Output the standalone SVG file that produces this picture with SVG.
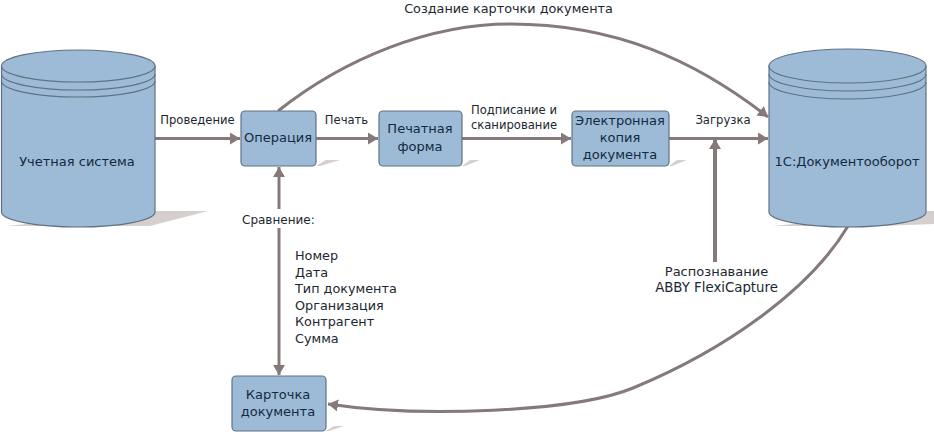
<svg xmlns="http://www.w3.org/2000/svg" width="934" height="438" viewBox="0 0 934 438">
<defs>
<marker id="a" markerUnits="userSpaceOnUse" markerWidth="12" markerHeight="14" refX="10" refY="6" orient="auto"><path d="M0 0L10 6L0 12z" fill="#85797a"/></marker>
</defs>
<style>
.n{fill:#9dbbd7;stroke:#5f7283;stroke-width:1.2}
.s{fill:#d5d0cd}
.l{fill:none;stroke:#5f7283;stroke-width:1.2}
.c{fill:none;stroke:#85797a;stroke-width:3;marker-end:url(#a)}
text{font-family:"DejaVu Sans",sans-serif;font-size:11.600px;fill:#1c2730}
.m{text-anchor:middle}
.d{fill:#14293f;font-size:13px}
.b{font-size:12.800px}
</style>
<rect width="934" height="438" fill="#fff"/>
<g id="connectors">
<path class="c" d="M155 138.500H240"/>
<path class="c" d="M316 138.500H378"/>
<path class="c" d="M462 138.500H571"/>
<path class="c" d="M669 138.500H768"/>
<path class="c" d="M715 262V139" style="stroke-width:4"/>
<path class="c" d="M278 111C345 58 430 24 510 24C615 24 695 60 768 117"/>
<path class="c" d="M279 209V167"/>
<path class="c" d="M279 228V375"/>
<path class="c" d="M848 226C810 290 725 350 633 388C575 412 420 418 328 404"/>
</g>
<g id="db-uchet">
<path class="s" d="M6 226L155 211H208L150 226z"/>
<path class="n" d="M1.500 66V212A76.750 15 0 0 0 155 212V66z"/>
<ellipse class="n" cx="78.250" cy="66" rx="76.750" ry="16"/>
<path class="l" d="M1.500 74A76.750 16 0 0 0 155 74M1.500 81A76.750 16 0 0 0 155 81"/>
<text class="d m" x="77" y="166">Учетная система</text>
</g>
<g id="op">
<path class="s" d="M316 166L326 160H340L320 166z"/>
<rect class="n" x="241" y="111" width="75" height="55" rx="4"/>
<text class="d m" x="278" y="142">Операция</text>
</g>
<g id="form">
<path class="s" d="M462 166L470 160H480L465 166z"/>
<rect class="n" x="379" y="111" width="83" height="55" rx="4"/>
<text class="d m" x="420" y="133">Печатная</text><text class="d m" x="420" y="151">форма</text>
</g>
<g id="copy">
<path class="s" d="M669 166L677 160H687L672 166z"/>
<rect class="n" x="572" y="111" width="97" height="55" rx="4"/>
<text class="d m" x="620" y="125">Электронная</text><text class="d m" x="620" y="142">копия</text><text class="d m" x="620" y="159">документа</text>
</g>
<g id="card">
<path class="s" d="M326 431L334 426H344L329 431z"/>
<rect class="n" x="232" y="376" width="94" height="55" rx="4"/>
<text class="d m" x="278" y="399">Карточка</text><text class="d m" x="278" y="416">документа</text>
</g>
<g id="db-1c">
<path class="s" d="M773 226L925 211H934V224L880 226z"/>
<path class="n" d="M769 66V212A78.500 15 0 0 0 926 212V66z"/>
<ellipse class="n" cx="847.500" cy="66" rx="78.500" ry="17"/>
<path class="l" d="M769 74A78.500 17 0 0 0 926 74M769 82A78.500 17 0 0 0 926 82"/>
<text class="d m" x="847" y="166">1С:Документооборот</text>
</g>
<g id="labels">
<text class="m b" x="508.500" y="13">Создание карточки документа</text>
<text class="m" x="197.500" y="124">Проведение</text>
<text class="m" x="346.500" y="124">Печать</text>
<text class="m" x="514" y="114">Подписание и</text>
<text class="m" x="514" y="129">сканирование</text>
<text class="m" x="723" y="124">Загрузка</text>
<text style="font-size:12px" x="242" y="224">Сравнение:</text>
<g class="list"><text class="b" x="295" y="260">Номер</text><text class="b" x="295" y="277">Дата</text><text class="b" x="295" y="293">Тип документа</text><text class="b" x="295" y="310">Организация</text><text class="b" x="295" y="326">Контрагент</text><text class="b" x="295" y="343">Сумма</text></g>
<text class="m" style="font-size:13px" x="716.500" y="276">Распознавание</text>
<text class="m" style="font-size:13.300px" x="716.500" y="292">ABBY FlexiCapture</text>
</g>
</svg>
